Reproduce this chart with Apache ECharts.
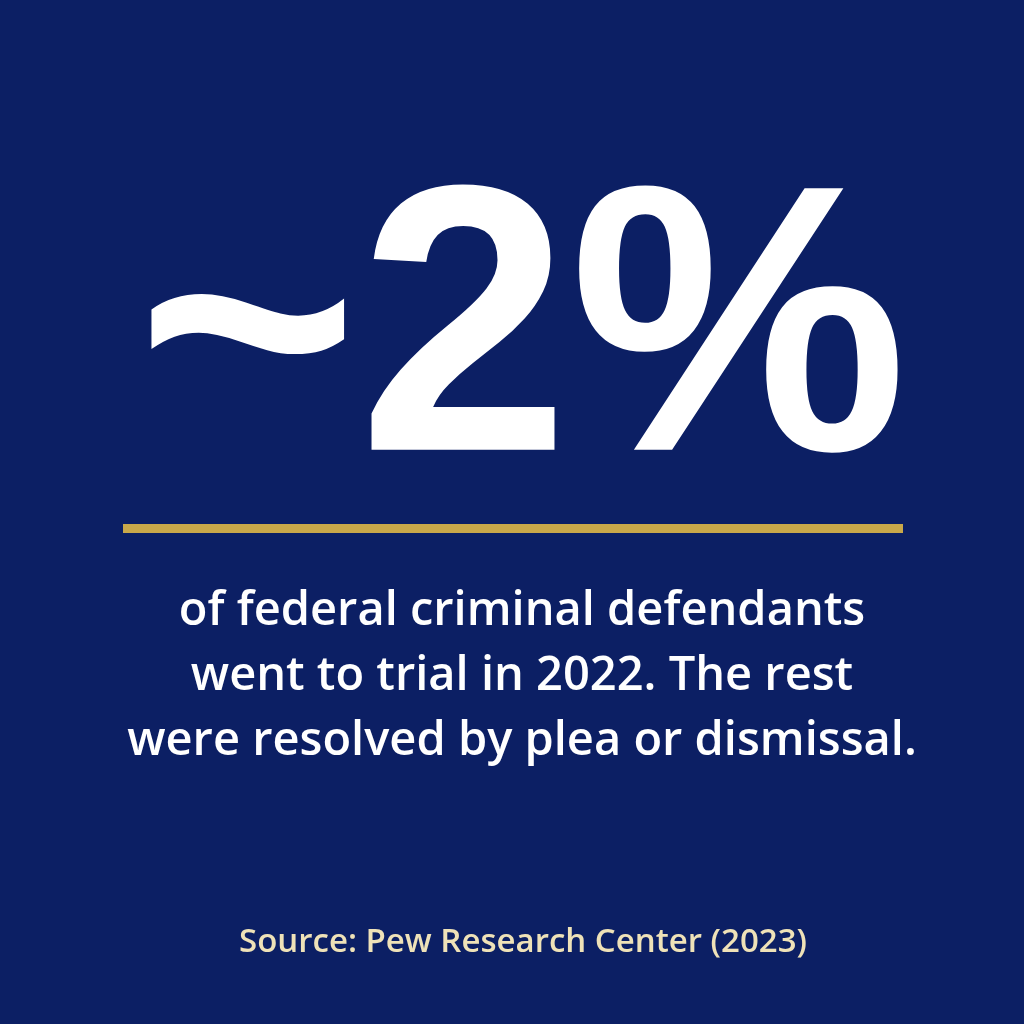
<!DOCTYPE html>
<html><head><meta charset="utf-8">
<script src="https://cdn.jsdelivr.net/npm/echarts@6/dist/echarts.min.js"></script>
<style>html,body{margin:0;padding:0;background:#0c1f64}#c{width:1024px;height:1024px}</style>
</head><body><div id="c"></div>
<script>
const headline = "~2%";
const bodyLines = [
  "of federal criminal defendants",
  "went to trial in 2022. The rest",
  "were resolved by plea or dismissal."
];
const sourceText = "Source: Pew Research Center (2023)";

const chart = echarts.init(document.getElementById('c'));
const els = [
  {type:'rect', shape:{x:0,y:0,width:1024,height:1024}, style:{fill:'#0c1f64'}},
  {type:'text', x:522, y:345, style:{text:headline, fill:'#ffffff', font:'bold 380px "Liberation Sans", Arial, sans-serif', align:'center', verticalAlign:'middle'}},
  {type:'rect', shape:{x:123,y:524,width:780,height:9}, style:{fill:'#c9a84a'}},
  {type:'text', x:523, y:943, style:{text:sourceText, fill:'#efe2b8', font:'600 33px "Open Sans", sans-serif', align:'center', verticalAlign:'middle'}}
];
bodyLines.forEach((t,i)=>els.push({type:'text', x:522, y:612+i*65, style:{text:t, fill:'#ffffff', font:'600 47px "Open Sans", sans-serif', align:'center', verticalAlign:'middle'}}));
chart.setOption({backgroundColor:'#0c1f64', graphic:{elements:els}});
</script></body></html>
